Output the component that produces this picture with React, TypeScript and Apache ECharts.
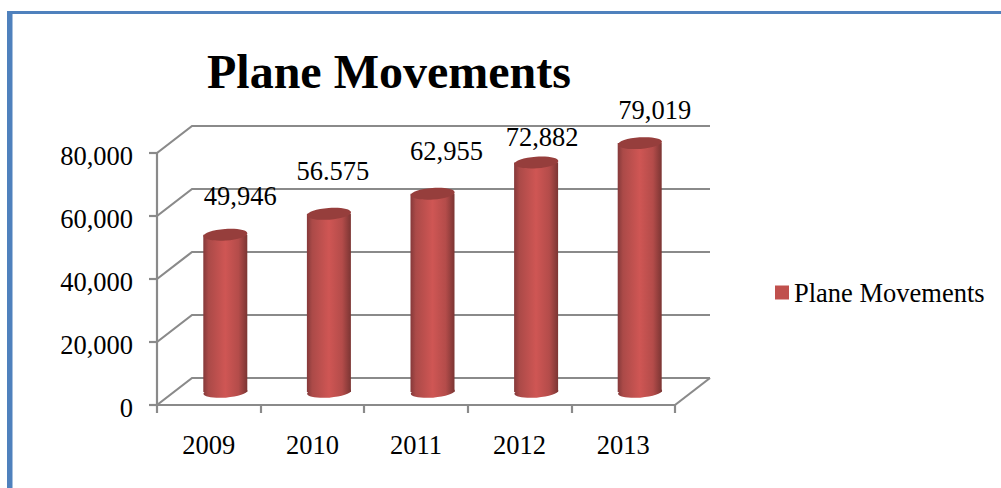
import React, { useEffect, useRef } from "react";
import * as echarts from "echarts";

const years = ["2009", "2010", "2011", "2012", "2013"];
const planeMovements = [49946, 56575, 62955, 72882, 79019];
const valueLabels = ["49,946", "56.575", "62,955", "72,882", "79,019"];
const wallTicks = [0, 20000, 40000, 60000, 80000];
const seriesName = "Plane Movements";

const FONT = "Liberation Serif";
const GRID_COLOR = "#8a8a8a";
const DEPTH_X = 35;
const DEPTH_Y = 27;
const BAR_SHIFT_X = 16.5;
const BAR_SHIFT_Y = 13;
const R = 22;
const TILT_RAD = 0.07;
const labelShifts = [
  [-1, -52],
  [-12, -56],
  [-2, -56],
  [-10, -38],
  [-1, -46],
];
const labelShiftBase = 16;

const bodyGradient = new echarts.graphic.LinearGradient(0, 0, 1, 0, [
  { offset: 0, color: "#85393a" },
  { offset: 0.12, color: "#ab4a48" },
  { offset: 0.5, color: "#cf5654" },
  { offset: 0.8, color: "#b44c4a" },
  { offset: 1, color: "#7b3533" },
]);

function renderWall(params: any, api: any) {
  const v = api.value(0);
  const cs = params.coordSys;
  const y = api.coord([0, v])[1];
  const left = cs.x;
  const right = cs.x + cs.width;
  const children: any[] = [
    {
      type: "polyline",
      shape: {
        points: [
          [left, y],
          [left + DEPTH_X, y - DEPTH_Y],
          [right + DEPTH_X, y - DEPTH_Y],
        ],
      },
      style: { stroke: GRID_COLOR, lineWidth: 2.2, fill: "none" },
    },
  ];
  if (v === 0) {
    children.push({
      type: "polyline",
      shape: {
        points: [
          [right, y],
          [right + DEPTH_X, y - DEPTH_Y],
        ],
      },
      style: { stroke: GRID_COLOR, lineWidth: 2.2, fill: "none" },
    });
  }
  return { type: "group", children };
}

function renderCylinder(params: any, api: any) {
  const i = api.value(0);
  const val = api.value(1);
  const top = api.coord([i, val]);
  const base = api.coord([i, 0]);
  const cx = top[0] + BAR_SHIFT_X;
  const ty = top[1] - BAR_SHIFT_Y;
  const by = base[1] - BAR_SHIFT_Y;
  const shift = labelShifts[i];
  return {
    type: "group",
    children: [
      {
        type: "ellipse",
        shape: { cx, cy: by, rx: R, ry: 5.5 },
        rotation: TILT_RAD,
        originX: cx,
        originY: by,
        style: { fill: bodyGradient },
      },
      {
        type: "rect",
        shape: { x: cx - R, y: ty, width: 2 * R, height: by - ty },
        style: { fill: bodyGradient },
      },
      {
        type: "ellipse",
        shape: { cx, cy: ty, rx: R, ry: 5.8 },
        rotation: TILT_RAD,
        originX: cx,
        originY: ty,
        style: { fill: "#963e3c" },
      },
      {
        type: "text",
        x: top[0] + labelShiftBase + shift[0] + BAR_SHIFT_X,
        y: top[1] + shift[1],
        style: {
          text: valueLabels[i],
          font: `26.5px "${FONT}"`,
          fill: "#000",
          align: "center",
          verticalAlign: "middle",
        },
      },
    ],
  };
}

export default function App() {
  const ref = useRef<HTMLDivElement>(null);
  useEffect(() => {
    const chart = echarts.init(ref.current!, undefined, { renderer: "svg" });
    chart.setOption({
      animation: false,
      backgroundColor: "#fff",
      textStyle: { fontFamily: FONT },
      title: {
        text: seriesName,
        left: 207,
        top: 47,
        padding: 0,
        textStyle: { fontFamily: FONT, fontSize: 48, fontWeight: "bold", color: "#000" },
      },
      legend: {
        data: [{ name: seriesName, icon: "rect", itemStyle: { color: "#c0504d" } }],
        left: 775,
        top: 279,
        padding: 0,
        itemWidth: 14,
        itemHeight: 14,
        textStyle: { fontFamily: FONT, fontSize: 26.5, color: "#000" },
      },
      grid: { left: 157, right: 326, top: 153, bottom: 83 },
      xAxis: {
        type: "category",
        data: years,
        axisLine: { lineStyle: { color: GRID_COLOR, width: 2.2 } },
        axisTick: { show: true, length: 8, lineStyle: { color: GRID_COLOR, width: 2.2 } },
        axisLabel: { fontFamily: FONT, fontSize: 26.5, color: "#000", margin: 26 },
        splitLine: { show: false },
      },
      yAxis: {
        type: "value",
        min: 0,
        max: 80000,
        interval: 20000,
        axisLine: { show: true, lineStyle: { color: GRID_COLOR, width: 2.2 } },
        axisTick: { show: true, length: 8, lineStyle: { color: GRID_COLOR, width: 2.2 } },
        axisLabel: {
          color: "#000",
          margin: 24,
          formatter: (v: number) => `{a|${v.toLocaleString("en-US")}}`,
          rich: {
            a: {
              fontFamily: FONT,
              fontSize: 26.5,
              color: "#000",
              padding: [6, 0, 0, 0],
            },
          },
        },
        splitLine: { show: false },
      },
      graphic: [
        { type: "rect", shape: { x: 7, y: 11, width: 994, height: 3 }, style: { fill: "#4f81bd" } },
        { type: "rect", shape: { x: 7, y: 11, width: 5.5, height: 477 }, style: { fill: "#4f81bd" } },
      ],
      series: [
        {
          type: "custom",
          name: "wall",
          silent: true,
          renderItem: renderWall,
          data: wallTicks.map((v) => [v]),
          encode: { y: 0 },
          z: 1,
        },
        {
          type: "custom",
          name: seriesName,
          renderItem: renderCylinder,
          data: planeMovements.map((v, i) => [i, v]),
          encode: { x: 0, y: 1 },
          z: 2,
        },
      ],
    });
    return () => chart.dispose();
  }, []);
  return (
    <div
      ref={ref}
      style={{ position: "fixed", left: 0, top: 0, width: 1001, height: 488 }}
    />
  );
}
